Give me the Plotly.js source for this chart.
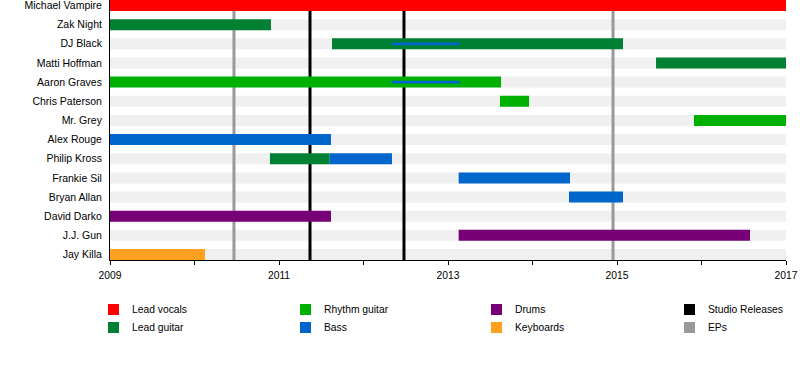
<!DOCTYPE html>
<html>
<head>
<meta charset="utf-8">
<script src="https://cdn.plot.ly/plotly-3.0.1.min.js"></script>
<style>html,body{margin:0;padding:0;background:#fff;}#chart{width:800px;height:380px;}</style>
</head>
<body>
<div id="chart"></div>
<script>
// ---- Data ----
const members = ['Michael Vampire','Zak Night','DJ Black','Matti Hoffman','Aaron Graves','Chris Paterson','Mr. Grey','Alex Rouge','Philip Kross','Frankie Sil','Bryan Allan','David Darko','J.J. Gun','Jay Killa'];
const roles = ['Lead vocals','Lead guitar','Rhythm guitar','Bass','Drums','Keyboards'];
const roleColors = ['#ff0000','#008033','#00b000','#0066cc','#770077','#ffa020'];

// main spells (decimal years)
const spellMember = ['Michael Vampire','Zak Night','DJ Black','Matti Hoffman','Aaron Graves','Chris Paterson','Mr. Grey','Alex Rouge','Philip Kross','Philip Kross','Frankie Sil','Bryan Allan','David Darko','J.J. Gun','Jay Killa'];
const spellRole   = ['Lead vocals','Lead guitar','Lead guitar','Lead guitar','Rhythm guitar','Rhythm guitar','Rhythm guitar','Bass','Lead guitar','Bass','Bass','Bass','Drums','Drums','Keyboards'];
const spellStart  = [2009, 2009, 2011.627, 2015.462, 2009, 2013.615, 2015.911, 2009, 2010.893, 2011.600, 2013.126, 2014.432, 2009, 2013.126, 2009];
const spellEnd    = [2017, 2010.905, 2015.071, 2017, 2013.627, 2013.959, 2017, 2011.615, 2011.600, 2012.337, 2014.444, 2015.071, 2011.615, 2016.574, 2010.124];

// secondary (thin) spells
const thinMember = ['DJ Black','Aaron Graves'];
const thinRole   = ['Bass','Bass'];
const thinStart  = [2012.333, 2012.333];
const thinEnd    = [2013.138, 2013.138];

// releases
const studioReleases = [2011.367, 2012.479];
const epReleases     = [2010.467, 2014.953];
const releaseLabels  = ['Studio Releases','EPs'];
const releaseColors  = ['#000000','#999999'];

// axis
const xStart = 2009, xEnd = 2017;
const xTickYears = [2009, 2011, 2013, 2015, 2017];

// ---- Build ----
const W = 800, H = 380, ML = 110, MR = 14, MT = 0, MB = 120;
const PW = W - ML - MR, PH = H - MT - MB;
const barW = 0.575, thinW = 0.15;
const idx = m => members.indexOf(m);

const traces = [];
roles.forEach((r, ri) => {
  const ys = [], bs = [], xs = [];
  spellRole.forEach((sr, i) => {
    if (sr === r) { ys.push(idx(spellMember[i])); bs.push(spellStart[i]); xs.push(spellEnd[i] - spellStart[i]); }
  });
  traces.push({type:'bar', orientation:'h', name:r, y:ys, base:bs, x:xs, width:barW,
    marker:{color:roleColors[ri], line:{width:0}}, hoverinfo:'skip', showlegend:false});
});
roles.forEach((r, ri) => {
  const ys = [], bs = [], xs = [];
  thinRole.forEach((sr, i) => {
    if (sr === r) { ys.push(idx(thinMember[i])); bs.push(thinStart[i]); xs.push(thinEnd[i] - thinStart[i]); }
  });
  if (ys.length) traces.push({type:'bar', orientation:'h', name:r, y:ys, base:bs, x:xs, width:thinW,
    marker:{color:roleColors[ri], line:{width:0}}, hoverinfo:'skip', showlegend:false});
});

const shapes = [];
// row bands
members.forEach((m, i) => {
  shapes.push({type:'rect', layer:'below', xref:'paper', yref:'y', x0:0, x1:1, y0:i - barW/2, y1:i + barW/2,
    fillcolor:'#f0f0f0', line:{width:0}});
});
// release lines
[[epReleases, releaseColors[1]], [studioReleases, releaseColors[0]]].forEach(([arr, col]) => {
  arr.forEach(d => shapes.push({type:'line', layer:'below', xref:'x', yref:'paper', x0:d, x1:d, y0:0, y1:1,
    line:{color:col, width:3}}));
});

// legend (custom grid, column-major)
const legendLabels = ['Lead vocals','Lead guitar','Rhythm guitar','Bass','Drums','Keyboards', releaseLabels[0], releaseLabels[1]];
const legendColors = roleColors.concat(releaseColors);
const colLeft = [108, 300, 491, 684];
const rowCenter = [309.5, 327.5];
const px2x = px => (px - ML) / PW;
const px2y = py => (MT + PH - py) / PH;
const annotations = [];
legendLabels.forEach((lab, i) => {
  const c = Math.floor(i / 2), r = i % 2;
  const left = colLeft[c], cy = rowCenter[r], s = 11;
  shapes.push({type:'rect', xref:'paper', yref:'paper', x0:px2x(left), x1:px2x(left + s),
    y0:px2y(cy + s/2), y1:px2y(cy - s/2), fillcolor:legendColors[i], line:{width:0}});
  annotations.push({xref:'paper', yref:'paper', x:px2x(left + 22), y:px2y(cy), xanchor:'left', yanchor:'middle',
    text:lab, showarrow:false, font:{size:10.3, color:'#000'}});
});

const layout = {
  width:W, height:H,
  margin:{l:ML, r:MR, t:MT, b:MB, pad:0},
  paper_bgcolor:'#fff', plot_bgcolor:'#fff',
  font:{family:'Arial, "Liberation Sans", sans-serif', size:10, color:'#000'},
  barmode:'overlay', showlegend:false,
  xaxis:{range:[xStart, xEnd], tickmode:'array', tickvals:xTickYears, ticktext:xTickYears.map(String),
    ticks:'outside', ticklen:4, tickwidth:1, tickcolor:'#000', ticklabelstandoff:2, ticklabeloverflow:'allow',
    minor:{ticks:'outside', tickmode:'linear', tick0:xStart, dtick:1, ticklen:4, tickwidth:1, tickcolor:'#000', showgrid:false},
    showline:true, linecolor:'#000', linewidth:1, showgrid:false, zeroline:false, fixedrange:true,
    tickfont:{size:10.3, color:'#000'}, layer:'below traces'},
  yaxis:{range:[members.length - 1 + barW/2, -barW/2], tickmode:'array', tickvals:members.map((m,i)=>i), ticktext:members,
    ticks:'', showline:true, linecolor:'#000', linewidth:1, showgrid:false, zeroline:false, fixedrange:true,
    ticklabelstandoff:5, ticklabeloverflow:'allow', tickfont:{size:10.5, color:'#000'}, layer:'below traces'},
  shapes:shapes, annotations:annotations
};

Plotly.newPlot('chart', traces, layout, {displayModeBar:false, staticPlot:true});
</script>
</body>
</html>
